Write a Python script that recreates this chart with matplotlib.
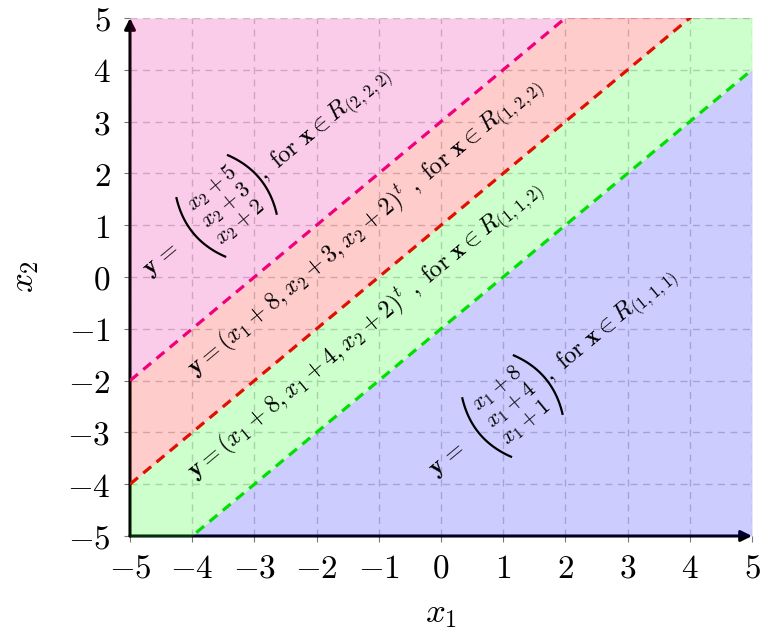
import numpy as np
import matplotlib.pyplot as plt
from matplotlib.ticker import FuncFormatter

plt.rcParams['mathtext.fontset'] = 'cm'
plt.rcParams['font.family'] = 'serif'
plt.rcParams['font.serif'] = ['DejaVu Serif']

# region boundaries: lines x2 = x1 + c
offsets = [-1, 1, 3]
line_colors = ['#00e000', '#e01000', '#f0007a']
# fill colours, drawn with alpha 0.2 (bottom to top)
fill_colors = ['#0000ff', '#00ff00', '#ff0000', '#e6009a']

# the two rows-of-three labels (matrix form)
mat_rows = [
    [r'$x_1+8$', r'$x_1+4$', r'$x_1+1$'],
    [r'$x_2+5$', r'$x_2+3$', r'$x_2+2$'],
]
mat_tails = [r'$,\ \mathrm{for}\ \mathbf{x} \in R_{(1,1,1)}$',
             r'$,\ \mathrm{for}\ \mathbf{x} \in R_{(2,2,2)}$']
mat_x = [-0.05, -4.646]     # where the bold y sits
mat_y = [-3.69, 0.174]

line_labels = [
    r'$\mathbf{y} = (x_1+8, x_1+4, x_2+2)^t\ ,\ \mathrm{for}\ \mathbf{x} \in R_{(1,1,2)}$',
    r'$\mathbf{y} = (x_1+8, x_2+3, x_2+2)^t\ ,\ \mathrm{for}\ \mathbf{x} \in R_{(1,2,2)}$',
]
line_x = [-3.95, -3.95]
line_y = [-3.93, -1.93]

ticks = [-5, -4, -3, -2, -1, 0, 1, 2, 3, 4, 5]

fig = plt.figure(figsize=(7.61, 6.37), dpi=100)
ax = fig.add_axes([130/761, 1-536/637, 622/761, 518/637])
ax.set_xlim(-5, 5)
ax.set_ylim(-5, 5)

x = np.array([-5.0, 5.0])
bounds = [np.full(2, -5.0)] + [x + c for c in offsets] + [np.full(2, 5.0)]
for i, col in enumerate(fill_colors):
    ax.fill_between(x, bounds[i], bounds[i+1], color=col, alpha=0.2, lw=0, zorder=2)
for c, col in zip(offsets, line_colors):
    ax.plot(x, x + c, color=col, lw=2.3, ls=(0, (3.2, 2.2)), zorder=3)

ax.grid(True, color='#808080', alpha=0.4, lw=1, ls=(0, (5, 4)), zorder=1)
ax.set_axisbelow(True)
for s in ax.spines.values():
    s.set_visible(False)

# axis lines with arrows
for end in [(5, -5), (-5, 5)]:
    ax.annotate('', xy=end, xytext=(-5, -5), zorder=1.5,
                arrowprops=dict(arrowstyle='-|>', color='black', lw=2.2, mutation_scale=16,
                                shrinkA=0, shrinkB=0),
                annotation_clip=False)

ax.set_xticks(ticks)
ax.set_yticks(ticks)
fmt = FuncFormatter(lambda v, p: f'${v:g}$')
ax.xaxis.set_major_formatter(fmt)
ax.yaxis.set_major_formatter(fmt)
ax.tick_params(direction='out', length=4, width=0.8, color='#777777', labelsize=24)
ax.tick_params(axis='x', pad=8)
ax.tick_params(axis='y', pad=10)

ax.set_xlabel(r'$x_1$', fontsize=25, labelpad=8)
ax.set_ylabel(r'$x_2$', fontsize=25, labelpad=19)

# text direction follows the boundary lines on screen
p = ax.transData.transform([(0, 0), (1, 1)])
ang = np.degrees(np.arctan2(p[1, 1] - p[0, 1], p[1, 0] - p[0, 0]))
ca, sa = np.cos(np.radians(ang)), np.sin(np.radians(ang))


def local(ox, oy, u, v):
    # (u, v) pixels along / across the text direction, from data point (ox, oy)
    o = ax.transData.transform((ox, oy))
    d = (o[0] + u*ca - v*sa, o[1] + u*sa + v*ca)
    return ax.transData.inverted().transform(d)


fs = 17.5
for txt, tx, ty in zip(line_labels, line_x, line_y):
    ax.text(tx, ty, txt, rotation=ang, rotation_mode='anchor', ha='left', va='baseline',
            fontsize=fs, zorder=4)

vv = np.linspace(-1, 1, 40)
for rows, tail, ox, oy in zip(mat_rows, mat_tails, mat_x, mat_y):
    px, py = local(ox, oy, -7, -5)
    ax.text(px, py, r'$\mathbf{y}\,=$', rotation=ang, rotation_mode='anchor',
            ha='left', va='baseline', fontsize=fs, zorder=4)
    for k, r in enumerate(rows):
        px, py = local(ox, oy, 97, 23 - 22*k)
        ax.text(px, py, r, rotation=ang, rotation_mode='anchor', ha='center', va='center',
                fontsize=16, zorder=4)
    # parentheses as thin curves
    for u0, b in [(54, 10), (140, -10)]:
        pts = np.array([local(ox, oy, u0 + b*t*t, 39*t) for t in vv])
        ax.plot(pts[:, 0], pts[:, 1], color='black', lw=1.6, zorder=4, solid_capstyle='butt')
    px, py = local(ox, oy, 142, -5)
    ax.text(px, py, tail, rotation=ang, rotation_mode='anchor', ha='left', va='baseline',
            fontsize=fs, zorder=4)

fig.savefig('out.png', dpi=100)
